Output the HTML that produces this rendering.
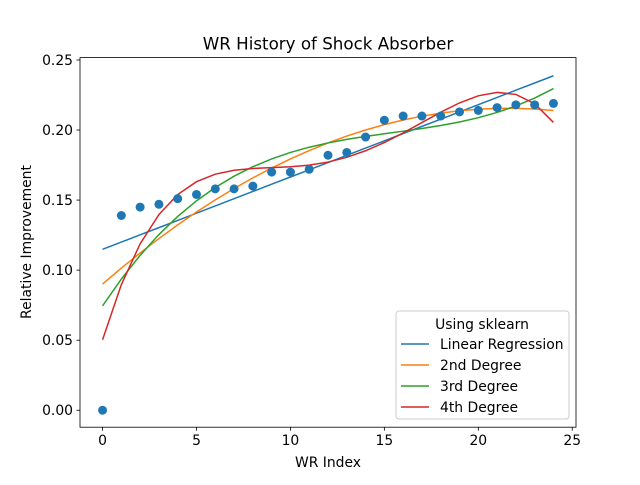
<!DOCTYPE html>
<html><head><meta charset="utf-8"><style>
body{margin:0;background:#fff;}
svg text{font-family:"DejaVu Sans","Liberation Sans",sans-serif;}
</style></head><body>
<svg id="chart" width="640" height="480" xmlns="http://www.w3.org/2000/svg">
<rect width="640" height="480" fill="#fff"/>
<text x="328" y="49.5" font-size="16.7" text-anchor="middle">WR History of Shock Absorber</text>
<g id="plot"></g>
<rect x="80" y="57.6" width="496" height="369.6" fill="none" stroke="#000" stroke-width="0.8"/>
<text x="328" y="467" font-size="13.9" text-anchor="middle">WR Index</text>
<text transform="translate(31,242) rotate(-90)" font-size="13.9" text-anchor="middle">Relative Improvement</text>
<g>
<rect x="396" y="311" width="173" height="108" rx="3" fill="#fff" fill-opacity="0.8" stroke="#ccc"/>
<text x="482" y="329" font-size="13.9" text-anchor="middle">Using sklearn</text>
<g id="legend-items"></g>
</g>
</svg>
<script>
const xs = [0,1,2,3,4,5,6,7,8,9,10,11,12,13,14,15,16,17,18,19,20,21,22,23,24];
const ys = [0,0.139,0.145,0.147,0.151,0.154,0.158,0.158,0.160,0.170,0.170,0.172,0.182,0.184,0.195,0.207,0.210,0.210,0.210,0.213,0.214,0.216,0.218,0.218,0.219];
const xTicks = [0,5,10,15,20,25];
const yTicks = [0,0.05,0.10,0.15,0.20,0.25];
const yTickLabels = ["0.00","0.05","0.10","0.15","0.20","0.25"];
const seriesNames = ["Linear Regression","2nd Degree","3rd Degree","4th Degree"];
const seriesDegrees = [1,2,3,4];
const seriesColors = ["#1f77b4","#ff7f0e","#2ca02c","#d62728"];

const X0=80,X1=576,Y0=427.2,Y1=57.6;
const xmin=-1.2,xmax=25.2,ymin=-0.0121,ymax=0.2517;
const sx=v=>X0+(v-xmin)/(xmax-xmin)*(X1-X0);
const sy=v=>Y0-(v-ymin)/(ymax-ymin)*(Y0-Y1);
const NS="http://www.w3.org/2000/svg";
const plot=document.getElementById('plot');
function mk(tag,attrs,parent){const e=document.createElementNS(NS,tag);for(const k in attrs)e.setAttribute(k,attrs[k]);(parent||plot).appendChild(e);return e;}

xTicks.forEach(t=>{
  const l=mk('line',{x1:sx(t),x2:sx(t),y1:Y0,y2:Y0+3.5,stroke:'#000','stroke-width':0.8});
  
  
  const tx=mk('text',{x:sx(t),y:Y0+18,'font-size':13.9,'text-anchor':'middle'});
  tx.textContent=t;
  
  
});
yTicks.forEach((t,i)=>{
  const l=mk('line',{x1:X0-3.5,x2:X0,y1:sy(t),y2:sy(t),stroke:'#000','stroke-width':0.8});
  
  
  const tx=mk('text',{x:X0-7,y:sy(t)+5,'font-size':13.9,'text-anchor':'end'});
  tx.textContent=yTickLabels[i];
  
  
});

function polyfit(x,y,d){
  const n=d+1,A=[],b=[];
  for(let i=0;i<n;i++){A.push([]);for(let j=0;j<n;j++){let s=0;x.forEach(v=>s+=Math.pow(v,i+j));A[i].push(s);}let s=0;x.forEach((v,k)=>s+=Math.pow(v,i)*y[k]);b.push(s);}
  for(let i=0;i<n;i++){let p=i;for(let r=i+1;r<n;r++)if(Math.abs(A[r][i])>Math.abs(A[p][i]))p=r;[A[i],A[p]]=[A[p],A[i]];[b[i],b[p]]=[b[p],b[i]];
    for(let r=i+1;r<n;r++){const f=A[r][i]/A[i][i];for(let c=i;c<n;c++)A[r][c]-=f*A[i][c];b[r]-=f*b[i];}}
  const c=new Array(n).fill(0);
  for(let i=n-1;i>=0;i--){let s=b[i];for(let j=i+1;j<n;j++)s-=A[i][j]*c[j];c[i]=s/A[i][i];}
  return c;
}
seriesDegrees.forEach((d,si)=>{
  const c=polyfit(xs,ys,d);
  const pts=xs.map(x=>{let v=0;c.forEach((ci,k)=>v+=ci*Math.pow(x,k));return sx(x).toFixed(2)+','+sy(v).toFixed(2);});
  const pl=mk('polyline',{points:pts.join(' '),fill:'none',stroke:seriesColors[si],'stroke-width':1.5});
  
  
});
xs.forEach((x,i)=>{
  const c=mk('circle',{cx:sx(x),cy:sy(ys[i]),r:4.5,fill:'#1f77b4'});
  
  
});
const lg=document.getElementById('legend-items');
seriesNames.forEach((nm,i)=>{
  const y=344+i*21;
  const l=mk('line',{x1:401,x2:429,y1:y,y2:y,stroke:seriesColors[i],'stroke-width':1.5},lg);
  
  
  const t=mk('text',{x:440,y:y+5,'font-size':13.9},lg);
  t.textContent=nm;
  
  
});
</script>
</body></html>
